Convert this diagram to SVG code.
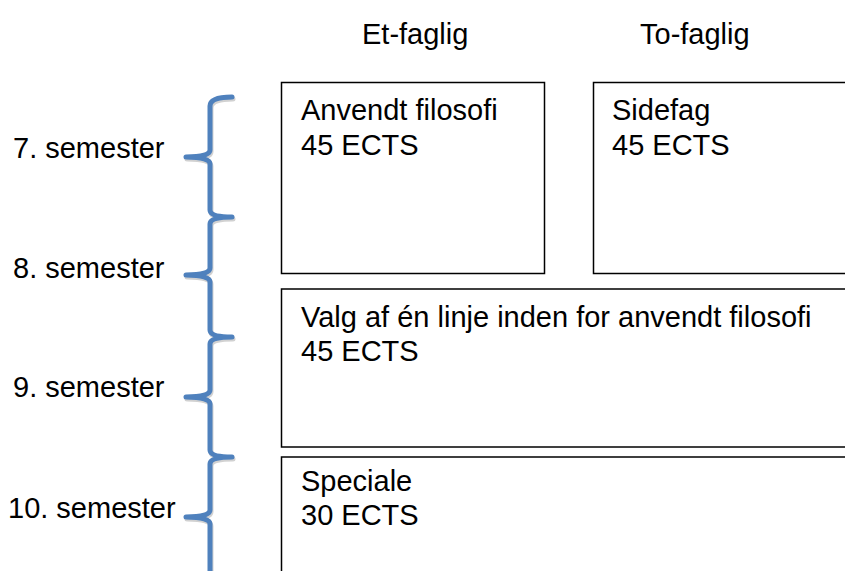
<svg xmlns="http://www.w3.org/2000/svg" width="845" height="571" viewBox="0 0 845 571">
<style>
.t{font-family:"Liberation Sans",Arial,sans-serif;font-size:29px;fill:#000}
.box{fill:#fff;stroke:#000;stroke-width:1.5}
.brace{fill:none;stroke:#4F81BD;stroke-width:5;stroke-linecap:round;stroke-linejoin:round}
.shadow{fill:none;stroke:#000;stroke-opacity:0.18;stroke-width:5;stroke-linecap:round;stroke-linejoin:round}
</style>
<defs>
<path id="bracePath" d="M232,97 Q210,97 210,106 L210,150 Q210,157 186,157 Q210,157 210,164 L210,210 Q210,217 232,217 Q210,217 210,224 L210,268 Q210,275 186,275 Q210,275 210,282 L210,330 Q210,337 232,337 Q210,337 210,344 L210,390 Q210,397 186,397 Q210,397 210,404 L210,450 Q210,457 232,457 Q210,457 210,464 L210,510 Q210,517 186,517 Q210,517 210,524 L210,575"/>
</defs>
<rect width="845" height="571" fill="#fff"/>
<g id="headers">
<text class="t" x="362" y="44">Et-faglig</text>
<text class="t" x="640" y="44">To-faglig</text>
</g>
<g id="labels">
<text class="t" x="13" y="158">7. semester</text>
<text class="t" x="13" y="278">8. semester</text>
<text class="t" x="13" y="397">9. semester</text>
<text class="t" x="8" y="518">10. semester</text>
</g>
<g id="connectors">
<use href="#bracePath" class="shadow" transform="translate(1,2)"/>
<use href="#bracePath" class="brace"/>
</g>
<g id="box-anvendt">
<rect class="box" x="281.5" y="82.5" width="263" height="191"/>
<text class="t" x="301" y="120">Anvendt filosofi</text>
<text class="t" x="301" y="155">45 ECTS</text>
</g>
<g id="box-sidefag">
<rect class="box" x="593.5" y="82.5" width="260" height="191"/>
<text class="t" x="612" y="120">Sidefag</text>
<text class="t" x="612" y="155">45 ECTS</text>
</g>
<g id="box-valg">
<rect class="box" x="281.5" y="289" width="570" height="158"/>
<text class="t" x="301" y="327">Valg af én linje inden for anvendt filosofi</text>
<text class="t" x="301" y="361">45 ECTS</text>
</g>
<g id="box-speciale">
<rect class="box" x="281.5" y="457" width="570" height="130"/>
<text class="t" x="301" y="491">Speciale</text>
<text class="t" x="301" y="525">30 ECTS</text>
</g>
</svg>
